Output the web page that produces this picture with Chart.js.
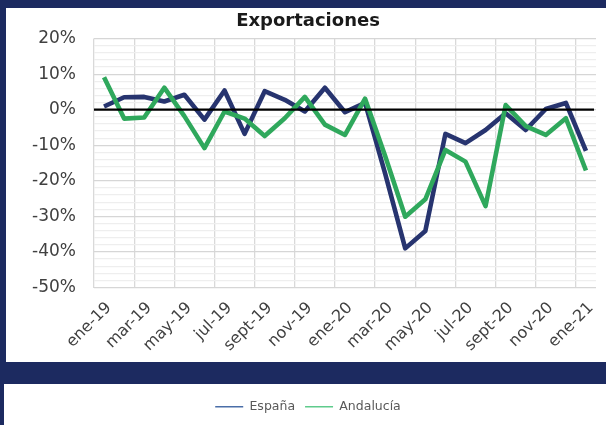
<!DOCTYPE html>
<html>
<head>
<meta charset="utf-8">
<script src="https://cdn.jsdelivr.net/npm/chart.js@4"></script>
<style>
  html, body { margin: 0; padding: 0; background: #1c2a60; }
  #wrap { width: 606px; height: 425px; }
</style>
</head>
<body>
<div id="wrap"><canvas id="chart" width="606" height="425"></canvas></div>
<script>
// meses (etiquetas del eje X, se muestra una de cada dos)
const months = ["ene-19", "feb-19", "mar-19", "abr-19", "may-19", "jun-19", "jul-19", "ago-19",
  "sept-19", "oct-19", "nov-19", "dic-19", "ene-20", "feb-20", "mar-20", "abr-20", "may-20",
  "jun-20", "jul-20", "ago-20", "sept-20", "oct-20", "nov-20", "dic-20", "ene-21"];

// variacion interanual de exportaciones (%)
const espana = [0.9, 3.5, 3.6, 2.3, 4.2, -2.8, 5.4, -6.8, 5.2, 2.8, -0.5, 6.2, -0.7, 1.9,
  -18, -39.0, -34.1, -6.8, -9.4, -5.7, -1.0, -5.7, 0.2, 1.9, -11.6];
const andalucia = [9.1, -2.5, -2.2, 6.2, -1.8, -10.8, -0.5, -2.5, -7.4, -2.4, 3.6, -4.2, -7.1, 3.1,
  -13, -30.1, -25.2, -11.3, -14.6, -27.1, 1.3, -4.6, -7.1, -2.4, -17.1];

// eje Y
const yMin = -50;
const yMax = 20;
const yStep = 2;

const navy = "#1c2a60";
const font = "'DejaVu Sans', Verdana, sans-serif";

// fondo azul con los dos paneles blancos
const panels = {
  id: "panels",
  beforeDraw(chart) {
    const c = chart.ctx;
    c.save();
    c.fillStyle = navy;
    c.fillRect(0, 0, chart.width, chart.height);
    c.fillStyle = "#ffffff";
    c.fillRect(6, 8, 600, 354);
    c.fillRect(4, 384, 602, 41);
    c.restore();
  },
};

// linea del cero por encima de las series
const zeroLine = {
  id: "zeroLine",
  afterDatasetsDraw(chart) {
    const { ctx, chartArea, scales } = chart;
    const y = scales.y.getPixelForValue(0);
    ctx.save();
    ctx.strokeStyle = "#000000";
    ctx.lineWidth = 2.2;
    ctx.beginPath();
    ctx.moveTo(chartArea.left, y);
    ctx.lineTo(chartArea.right - 2, y);
    ctx.stroke();
    ctx.restore();
  },
};

new Chart(document.getElementById("chart"), {
  type: "line",
  data: {
    labels: months,
    datasets: [
      {
        label: "España",
        data: espana,
        borderColor: "#27346f",
        borderWidth: 4.6,
        pointRadius: 0,
        borderJoinStyle: "round",
        tension: 0,
        order: 1,
      },
      {
        label: "Andalucía",
        data: andalucia,
        borderColor: "#2fa85c",
        borderWidth: 4.6,
        pointRadius: 0,
        borderJoinStyle: "round",
        tension: 0,
        order: 0,
      },
    ],
  },
  options: {
    responsive: false,
    animation: false,
    layout: { padding: { left: 20, right: 10, top: 8, bottom: 2 } },
    plugins: {
      title: {
        display: true,
        text: "Exportaciones",
        color: "#1a1a1a",
        font: { family: font, size: 18, weight: "bold" },
        padding: { top: 3, bottom: 6 },
      },
      legend: {
        position: "bottom",
        labels: {
          color: "#595959",
          font: { family: font, size: 12.5 },
          usePointStyle: true,
          pointStyleWidth: 28,
          boxHeight: 10,
          padding: 10,
          generateLabels() {
            return [
              { text: "España", pointStyle: "line", strokeStyle: "#4a6ea8", lineWidth: 1.6, fillStyle: "#4a6ea8", fontColor: "#595959", datasetIndex: 0 },
              { text: "Andalucía", pointStyle: "line", strokeStyle: "#5fcb8c", lineWidth: 1.6, fillStyle: "#5fcb8c", fontColor: "#595959", datasetIndex: 1 },
            ];
          },
        },
      },
      tooltip: { enabled: false },
    },
    scales: {
      x: {
        offset: true,
        border: { display: false },
        grid: {
          offset: true,
          drawTicks: false,
          lineWidth: 1.3,
          color: (ctx) => (ctx.index % 2 === 0 ? "#d9d9d9" : "rgba(0,0,0,0)"),
        },
        ticks: {
          autoSkip: false,
          minRotation: 45,
          maxRotation: 45,
          padding: 11,
          labelOffset: 5,
          color: "#404040",
          font: { family: font, size: 16 },
          callback: (val, i) => (i % 2 === 0 ? months[i] : ""),
        },
        afterFit(scale) {
          scale.height = 103;
          // sin margen extra por las etiquetas giradas
          scale.paddingLeft = 0;
          scale.paddingRight = 0;
        },
      },
      y: {
        min: yMin,
        max: yMax,
        border: { display: false },
        grid: {
          drawTicks: false,
          lineWidth: 1.2,
          color: (ctx) => (ctx.tick && Math.round(ctx.tick.value) % 10 === 0 ? "#d6d6d6" : "#eeeeee"),
        },
        ticks: {
          stepSize: yStep,
          autoSkip: false,
          maxTicksLimit: 100,
          padding: 18,
          color: "#404040",
          font: { family: font, size: 17 },
          callback: (v) => (Math.round(v) % 10 === 0 ? Math.round(v) + "%" : ""),
        },
        afterFit(scale) {
          scale.width = 74;
        },
      },
    },
  },
  plugins: [panels, zeroLine],
});
</script>
</body>
</html>
